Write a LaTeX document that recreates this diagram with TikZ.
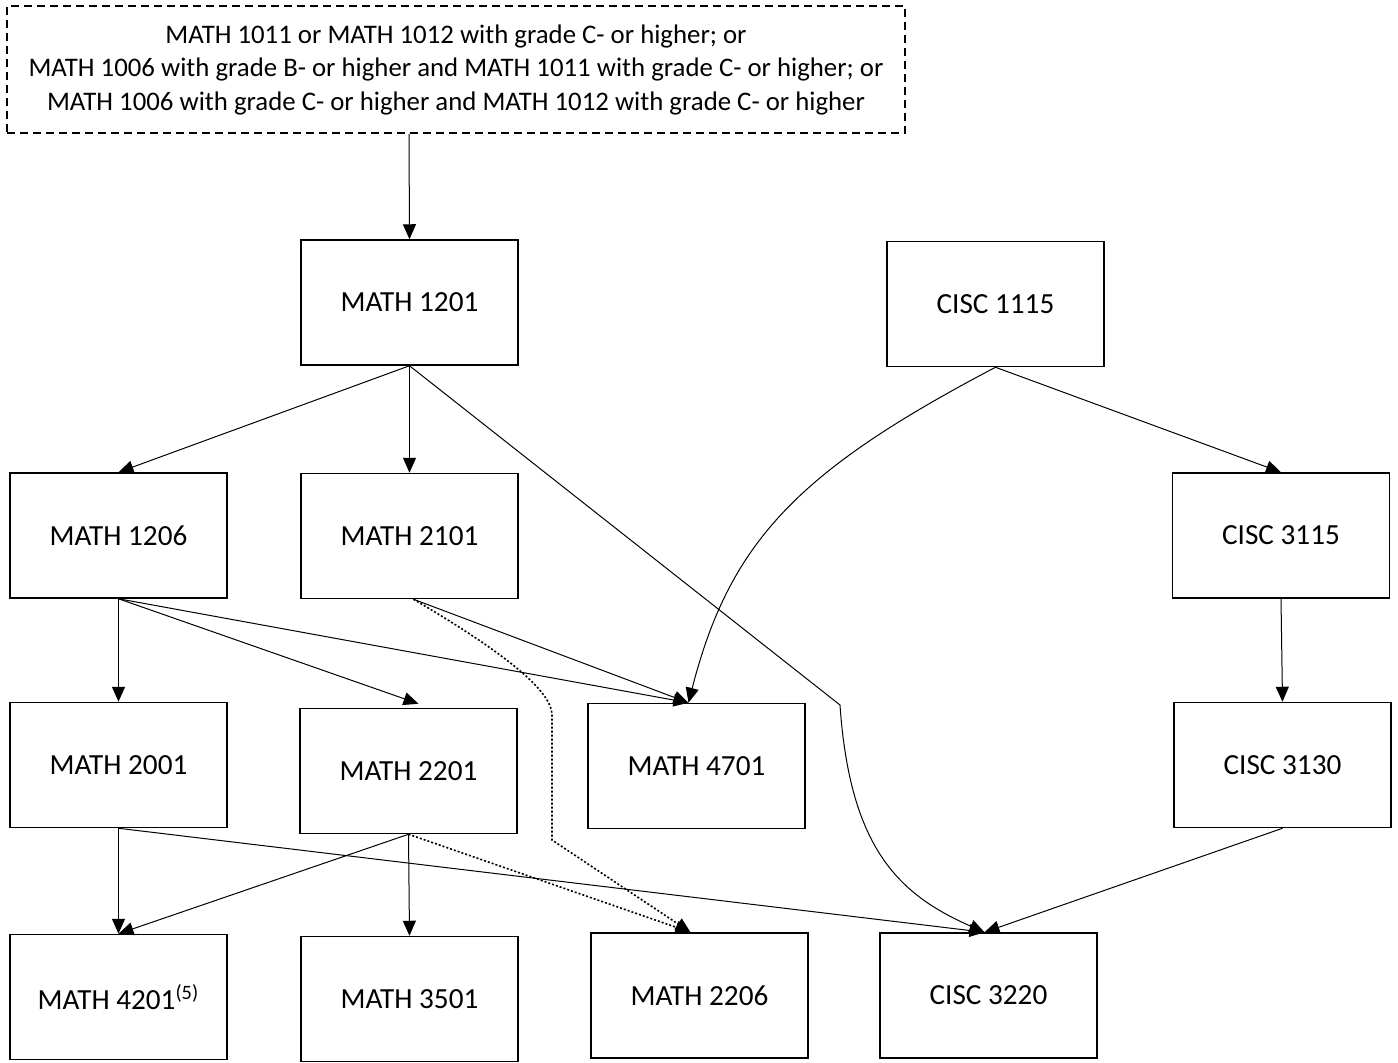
\documentclass[tikz,border=0pt]{standalone}
\usepackage{fontspec}
\setmainfont{Carlito}
\usetikzlibrary{arrows.meta}
\begin{document}
\begin{tikzpicture}[
        x=0.5pt, y=-0.5pt,
        every node/.style={draw, line width=0.75pt, font=\fontsize{14.6}{16.8}\selectfont},
        course/.style={minimum width=108.5pt, minimum height=62.5pt, inner sep=0pt},
        prereq/.style={dashed, dash pattern=on 4pt off 2.5pt, minimum width=449pt, minimum height=63.5pt,
            inner sep=0pt, align=center, font=\fontsize{13.4}{16.75}\selectfont},
        arr/.style={-{Triangle[length=7.5pt,width=6.5pt]}, line width=0.5pt},
        dotarr/.style={arr, dash pattern=on 1pt off 1pt, line width=0.8pt},
    ]
    \useasboundingbox (0,0) rectangle (1398,1062);
    % prerequisite box
    \node[prereq](pre) at (456,69.5){MATH 1011 or MATH 1012 with grade C- or higher; or\\
        MATH 1006 with grade B- or higher and MATH 1011 with grade C- or higher; or\\
        MATH 1006 with grade C- or higher and MATH 1012 with grade C- or higher};
    % courses
    \node[course](m1201) at (409.5,302.5){MATH 1201};
    \node[course](c1115) at (995.5,304){CISC 1115};
    \node[course](m1206) at (118.5,535.5){MATH 1206};
    \node[course](m2101) at (409.5,536){MATH 2101};
    \node[course](c3115) at (1281,535.5){CISC 3115};
    \node[course](m2001) at (118.5,765){MATH 2001};
    \node[course](m2201) at (408.5,771){MATH 2201};
    \node[course](m4701) at (696.5,766){MATH 4701};
    \node[course](c3130) at (1282.5,765){CISC 3130};
    \node[course](m4201) at (118.5,997){MATH 4201\textsuperscript{(5)}};
    \node[course](m3501) at (409.5,999){MATH 3501};
    \node[course](m2206) at (699.5,995.5){MATH 2206};
    \node[course](c3220) at (988.5,995.5){CISC 3220};
    \coordinate (bend) at (840,705);
    % edges
    \draw[arr] ([xshift=-23.5pt]pre.south) -- (m1201.north);
    \draw[arr] (m1201.south) -- (m1206.north);
    \draw[arr] (m1201.south) -- (m2101.north);
    \draw[arr] (m1201.south) -- (bend) .. controls (850,850) and (900,895) .. ([xshift=-2pt]c3220.north);
    \draw[arr] (c1115.south) -- (c3115.north);
    \draw[arr] (c1115.south) .. controls (800,470) and (730,540) .. ([xshift=-4pt]m4701.north);
    \draw[arr] (m1206.south) -- (m2001.north);
    \draw[arr] (m1206.south) -- ([xshift=5pt,yshift=2pt]m2201.north);
    \draw[arr] (m1206.south) -- ([xshift=-4pt]m4701.north);
    \draw[arr] ([xshift=2pt]m2101.south) -- ([xshift=-4pt]m4701.north);
    \draw[dotarr] ([xshift=2pt]m2101.south) .. controls (500,650) and (552,690) .. (552,715)
        -- (552,840) -- ([xshift=-4.5pt]m2206.north);
    \draw[arr] (c3115.south) -- (c3130.north);
    \draw[arr] (m2001.south) -- (m4201.north);
    \draw[arr] (m2001.south) -- ([xshift=-2pt]c3220.north);
    \draw[arr] (m2201.south) -- (m4201.north);
    \draw[arr] (m2201.south) -- (m3501.north);
    \draw[dotarr] (m2201.south) -- ([xshift=-4.5pt]m2206.north);
    \draw[arr] (c3130.south) -- ([xshift=-2pt]c3220.north);
\end{tikzpicture}
\end{document}
